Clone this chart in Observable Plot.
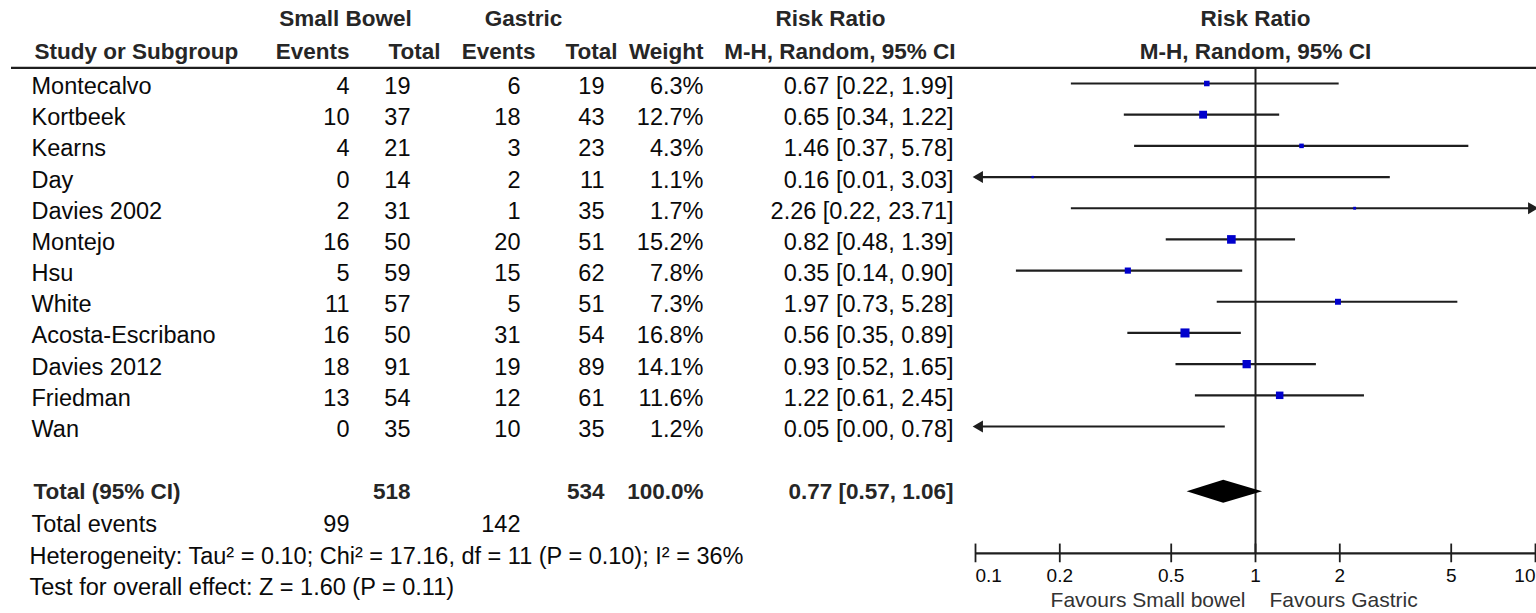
<!DOCTYPE html>
<html><head><meta charset="utf-8">
<script src="https://cdn.jsdelivr.net/npm/d3@7"></script>
<script src="https://cdn.jsdelivr.net/npm/@observablehq/plot@0.6"></script>
<style>
html,body{margin:0;padding:0;background:#fff;}
#chart{position:relative;width:1536px;height:613px;overflow:hidden;background:#fff;}
#chart svg{position:absolute;left:0;top:0;background:transparent !important;}
</style></head><body><div id="chart"></div>
<script>
// ---- data ----
const studies = ["Montecalvo","Kortbeek","Kearns","Day","Davies 2002","Montejo","Hsu","White","Acosta-Escribano","Davies 2012","Friedman","Wan"];
const sbEvents = [4,10,4,0,2,16,5,11,16,18,13,0];
const sbTotal = [19,37,21,14,31,50,59,57,50,91,54,35];
const gEvents = [6,18,3,2,1,20,15,5,31,19,12,10];
const gTotal = [19,43,23,11,35,51,62,51,54,89,61,35];
const weights = [6.3,12.7,4.3,1.1,1.7,15.2,7.8,7.3,16.8,14.1,11.6,1.2];
const rr = [0.67,0.65,1.46,0.16,2.26,0.82,0.35,1.97,0.56,0.93,1.22,0.05];
const ciLow = [0.22,0.34,0.37,0.01,0.22,0.48,0.14,0.73,0.35,0.52,0.61,0.00];
const ciHigh = [1.99,1.22,5.78,3.03,23.71,1.39,0.90,5.28,0.89,1.65,2.45,0.78];
const totalLabel = "Total (95% CI)";
const totalN = [518, 534];
const totalWeight = 100.0;
const totalRR = [0.77, 0.57, 1.06];
const eventsLabel = "Total events";
const eventsTotal = [99, 142];
const footnotes = ["Heterogeneity: Tau\u00B2 = 0.10; Chi\u00B2 = 17.16, df = 11 (P = 0.10); I\u00B2 = 36%",
                   "Test for overall effect: Z = 1.60 (P = 0.11)"];
const groupLabels = ["Small Bowel","Gastric","Risk Ratio"];
const columnLabels = ["Study or Subgroup","Events","Total","Events","Total","Weight","M-H, Random, 95% CI"];
const forestHeader = ["Risk Ratio","M-H, Random, 95% CI"];
const axisTicks = [0.1,0.2,0.5,1,2,5,10];
const favours = ["Favours Small bowel","Favours Gastric"];

// ---- layout ----
const W = 1536, H = 613;
const FONT = "'Liberation Sans', Arial, sans-serif";
const BODY = 23.5, HEADSZ = 22.5, TICK = 19, FAV = 21;
const yScale = {type: "linear", domain: [0, studies.length - 1], range: [83, 426]};
const ROW = {group: -2.08, head: -1.03, rule: -0.5, total: 13.09, events: 14.14, het: 15.17, test: 16.16, axis: 15.07};
const nameX = 31;
const headerRight = [349, 440, 535, 617, 703, 955];
const valueRight = [349, 410, 520, 604, 703, 953];
const groupCenter = [345, 523, 830];
const INK = "#0a0a0a", HEAD = "#262626", LINE = "#1e1e1e";
const fmtRR = (r, l, h) => `${r.toFixed(2)} [${l.toFixed(2)}, ${h.toFixed(2)}]`;

// ---- table ----
const valueCells = [];
studies.forEach((s, i) => {
  const vals = [sbEvents[i], sbTotal[i], gEvents[i], gTotal[i], weights[i].toFixed(1) + "%", fmtRR(rr[i], ciLow[i], ciHigh[i])];
  vals.forEach((v, c) => valueCells.push({x: valueRight[c], y: i, text: String(v)}));
});
const totalCells = [
  {x: valueRight[1], text: String(totalN[0])},
  {x: valueRight[3], text: String(totalN[1])},
  {x: valueRight[4], text: totalWeight.toFixed(1) + "%"},
  {x: valueRight[5], text: fmtRR(...totalRR)}
];
const eventCells = [{x: valueRight[0], text: String(eventsTotal[0])}, {x: valueRight[2], text: String(eventsTotal[1])}];
const headerCells = columnLabels.slice(1).map((t, c) => ({x: headerRight[c], text: t}));
const groupCells = groupLabels.map((t, c) => ({x: groupCenter[c], text: t}));

const table = Plot.plot({
  width: W, height: H, margin: 0,
  x: {type: "linear", domain: [0, W], range: [0, W], axis: null},
  y: {...yScale, axis: null},
  style: {fontFamily: FONT, background: "transparent", color: INK},
  marks: [
    Plot.text(groupCells, {x: "x", y: () => ROW.group, text: "text", fontWeight: "bold", fontSize: HEADSZ, fill: HEAD}),
    Plot.text([columnLabels[0]], {x: () => nameX + 3, y: () => ROW.head, text: d => d, textAnchor: "start", fontWeight: "bold", fontSize: HEADSZ, fill: HEAD}),
    Plot.text(headerCells, {x: "x", y: () => ROW.head, text: "text", textAnchor: "end", fontWeight: "bold", fontSize: HEADSZ, fill: HEAD}),
    Plot.ruleY([ROW.rule], {x1: 11, x2: W, stroke: LINE, strokeWidth: 2.2}),
    Plot.text(studies, {x: () => nameX, y: (d, i) => i, text: d => d, textAnchor: "start", fontSize: BODY, fill: INK, dy: 3}),
    Plot.text(valueCells, {x: "x", y: "y", text: "text", textAnchor: "end", fontSize: BODY, fill: INK, dy: 3}),
    Plot.text([totalLabel], {x: () => nameX + 2, y: () => ROW.total, text: d => d, textAnchor: "start", fontWeight: "bold", fontSize: HEADSZ, fill: HEAD}),
    Plot.text(totalCells, {x: "x", y: () => ROW.total, text: "text", textAnchor: "end", fontWeight: "bold", fontSize: HEADSZ, fill: HEAD}),
    Plot.text([eventsLabel], {x: () => nameX, y: () => ROW.events, text: d => d, textAnchor: "start", fontSize: BODY, fill: INK}),
    Plot.text(eventCells, {x: "x", y: () => ROW.events, text: "text", textAnchor: "end", fontSize: BODY, fill: INK}),
    Plot.text(footnotes, {x: () => nameX - 2, y: (d, i) => i === 0 ? ROW.het : ROW.test, text: d => d, textAnchor: "start", fontSize: BODY, fill: INK})
  ]
});

// ---- forest ----
const xMin = axisTicks[0], xMax = axisTicks[axisTicks.length - 1];
const rows = studies.map((s, i) => ({i, rr: rr[i], lo: ciLow[i], hi: ciHigh[i], w: weights[i]}));
const diamond = [
  {y: ROW.total - 0.37, x1: totalRR[0], x2: totalRR[0]},
  {y: ROW.total, x1: totalRR[1], x2: totalRR[2]},
  {y: ROW.total + 0.37, x1: totalRR[0], x2: totalRR[0]}
];
const forest = Plot.plot({
  width: W, height: H,
  marginLeft: 975, marginRight: 1, marginTop: 0, marginBottom: 0,
  x: {type: "log", domain: [xMin, xMax], axis: null},
  y: {...yScale, axis: null},
  r: {type: "sqrt", domain: [0, d3.max(weights)], range: [0, 5.1]},
  style: {fontFamily: FONT, background: "transparent", color: INK},
  marks: [
    Plot.text(forestHeader, {x: () => 1, y: (d, i) => i === 0 ? ROW.group : ROW.head, text: d => d, fontWeight: "bold", fontSize: HEADSZ, fill: HEAD}),
    Plot.ruleX([1], {y1: ROW.rule, y2: ROW.axis, stroke: LINE, strokeWidth: 2}),
    Plot.ruleY(rows, {y: "i", x1: d => Math.max(d.lo, xMin), x2: d => Math.min(d.hi, xMax), stroke: LINE, strokeWidth: 2.2}),
    Plot.dot(rows.filter(d => d.lo < xMin), {x: () => xMin, y: "i", symbol: "triangle", rotate: -90, r: 4.4, fill: LINE, stroke: "none", dx: 4}),
    Plot.dot(rows.filter(d => d.hi > xMax), {x: () => xMax, y: "i", symbol: "triangle", rotate: 90, r: 4.4, fill: LINE, stroke: "none", dx: -4}),
    Plot.dot(rows.filter(d => d.rr >= xMin && d.rr <= xMax), {x: "rr", y: "i", r: "w", symbol: "square", fill: "#0000cc", stroke: "none"}),
    Plot.areaX(diamond, {y: "y", x1: "x1", x2: "x2", fill: "#000", curve: "linear"}),
    Plot.ruleY([ROW.axis], {stroke: LINE, strokeWidth: 2.2}),
    Plot.ruleX(axisTicks, {y1: ROW.axis - 0.3, y2: ROW.axis + 0.3, stroke: LINE, strokeWidth: 1.8}),
    Plot.text(axisTicks.slice(0, 1), {x: d => d, y: () => ROW.axis, text: d => String(d), textAnchor: "start", dy: 22, fontSize: TICK, fill: INK}),
    Plot.text(axisTicks.slice(1, -1), {x: d => d, y: () => ROW.axis, text: d => String(d), textAnchor: "middle", dy: 22, fontSize: TICK, fill: INK}),
    Plot.text(axisTicks.slice(-1), {x: d => d, y: () => ROW.axis, text: d => String(d), textAnchor: "end", dy: 22, fontSize: TICK, fill: INK}),
    Plot.text([favours[0]], {x: () => 1, y: () => ROW.axis, text: d => d, textAnchor: "end", dx: -10, dy: 47, fontSize: FAV, fill: "#333"}),
    Plot.text([favours[1]], {x: () => 1, y: () => ROW.axis, text: d => d, textAnchor: "start", dx: 14, dy: 47, fontSize: FAV, fill: "#333"})
  ]
});

const root = document.getElementById("chart");
root.append(table, forest);
</script></body></html>
